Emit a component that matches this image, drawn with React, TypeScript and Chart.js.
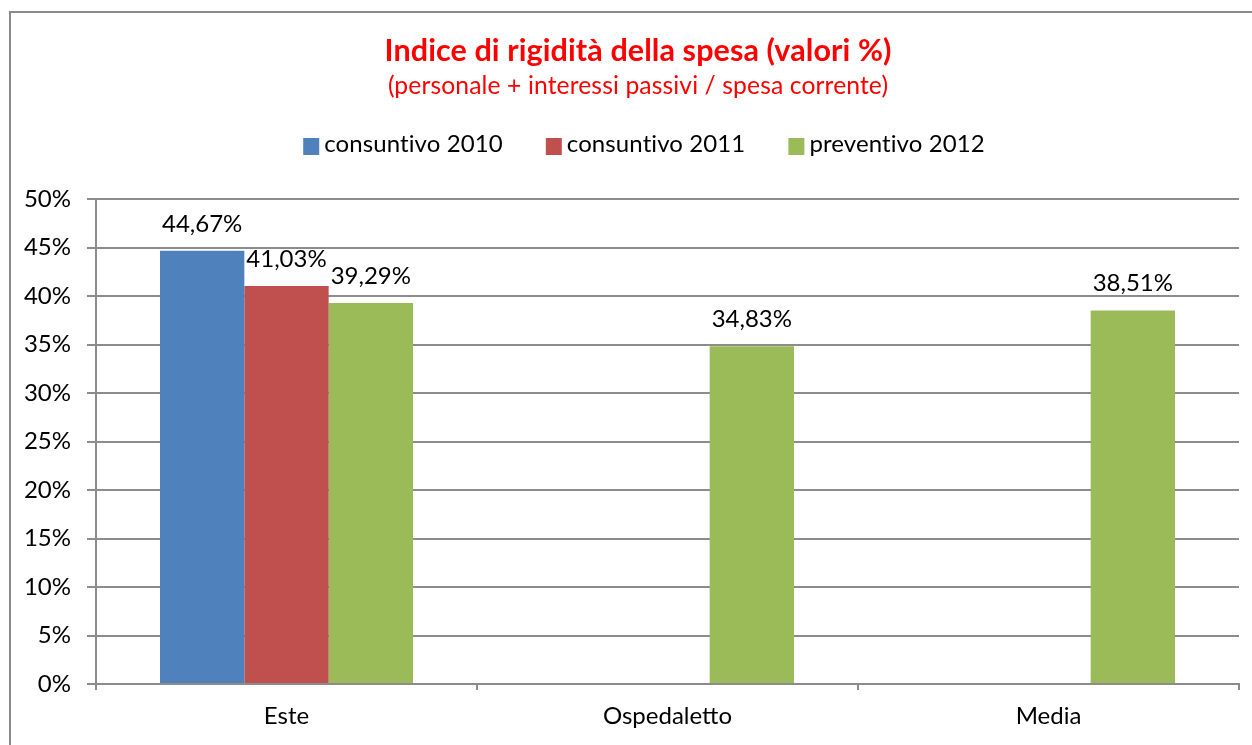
import React, { useEffect, useRef } from 'react';
import { Chart, registerables } from 'chart.js';

Chart.register(...registerables);

const categories = ['Este', 'Ospedaletto', 'Media'];
const seriesNames = ['consuntivo 2010', 'consuntivo 2011', 'preventivo 2012'];
const consuntivo2010 = [44.67, null, null];
const consuntivo2011 = [41.03, null, null];
const preventivo2012 = [39.29, 34.83, 38.51];
const seriesColors = ['#4F81BD', '#C0504D', '#9BBB59'];
const yMin = 0;
const yMax = 50;
const yStep = 5;
const titleText = 'Indice di rigidità della spesa (valori %)';
const subtitleText = '(personale + interessi passivi / spesa corrente)';

const FONT = 'Lato, "Open Sans", sans-serif';
const GRID = '#8c8c8c';

const fmt = (v: number) => v.toFixed(2).replace('.', ',') + '%';

const decorPlugin = {
  id: 'decor',
  beforeDraw(chart: any) {
    const ctx = chart.ctx;
    ctx.save();
    ctx.fillStyle = '#ffffff';
    ctx.fillRect(0, 0, chart.width, chart.height);
    ctx.fillStyle = '#8a8a8a';
    ctx.fillRect(9, 11, 2, chart.height - 11);
    ctx.fillRect(9, 11, chart.width - 9, 2);
    ctx.restore();
  },
  afterDraw(chart: any) {
    const ctx = chart.ctx;
    ctx.save();
    try { (ctx as any).letterSpacing = '0.1px'; } catch (e) {}
    ctx.fillStyle = '#FF0000';
    ctx.textAlign = 'center';
    ctx.textBaseline = 'alphabetic';
    ctx.font = 'bold 30.5px ' + FONT;
    ctx.fillText(titleText, 638, 61);
    ctx.font = '24.7px ' + FONT;
    ctx.fillText(subtitleText, 638, 94);

    // legend
    ctx.font = '24px ' + FONT;
    const box = 16;
    const gapText = 5;
    const gapItem = 43;
    const widths = chart.data.datasets.map((d: any) => box + gapText + ctx.measureText(d.label).width);
    const total = widths.reduce((a: number, b: number) => a + b, 0) + gapItem * (widths.length - 1);
    let x = 644 - total / 2;
    ctx.textAlign = 'left';
    chart.data.datasets.forEach((d: any, i: number) => {
      ctx.fillStyle = d.backgroundColor;
      ctx.fillRect(x, 138, box, 17);
      ctx.fillStyle = '#000000';
      ctx.fillText(d.label, x + box + gapText, 152);
      x += widths[i] + gapItem;
    });
    ctx.restore();
  },
  afterDatasetsDraw(chart: any) {
    const ctx = chart.ctx;
    ctx.save();
    ctx.font = '24px ' + FONT;
    ctx.fillStyle = '#000000';
    ctx.textAlign = 'center';
    ctx.textBaseline = 'alphabetic';
    chart.data.datasets.forEach((d: any, i: number) => {
      const meta = chart.getDatasetMeta(i);
      meta.data.forEach((el: any, j: number) => {
        const v = d.data[j];
        if (v === null || v === undefined) return;
        ctx.fillText(fmt(v), el.x, el.y - 19);
      });
    });
    ctx.restore();
  },
};

export default function App() {
  const ref = useRef<HTMLCanvasElement>(null);
  useEffect(() => {
    if (!ref.current) return;
    const series = [consuntivo2010, consuntivo2011, preventivo2012];
    const chart = new Chart(ref.current, {
      type: 'bar',
      data: {
        labels: categories,
        datasets: series.map((s, i) => ({
          label: seriesNames[i],
          data: s,
          backgroundColor: seriesColors[i],
          borderWidth: 0,
          categoryPercentage: 0.664,
          barPercentage: 1,
        })),
      },
      options: {
        responsive: false,
        animation: false,
        devicePixelRatio: 1,
        layout: { padding: { top: 199, left: 0, right: 13, bottom: 0 } },
        plugins: {
          legend: { display: false },
          title: { display: false },
          tooltip: { enabled: false },
        },
        scales: {
          x: {
            grid: { display: true, drawOnChartArea: false, drawTicks: true, tickLength: 6, color: GRID, lineWidth: 2, offset: true },
            border: { color: GRID, width: 2 },
            ticks: { font: { family: FONT, size: 24 }, color: '#000000', padding: 12 },
            afterFit: (s: any) => { s.height = 61; },
          },
          y: {
            min: yMin,
            max: yMax,
            grid: { color: GRID, lineWidth: 2, tickLength: 9 },
            border: { color: GRID, width: 2 },
            ticks: {
              stepSize: yStep,
              font: { family: FONT, size: 24 },
              color: '#000000',
              padding: 16,
              callback: (v: any) => v + '%',
            },
            afterFit: (s: any) => { s.width = 96; },
          },
        },
      },
      plugins: [decorPlugin],
    });
    return () => chart.destroy();
  }, []);
  return (
    <div style={{ position: 'absolute', left: 0, top: 0, width: 1252, height: 745 }}>
      <canvas ref={ref} width={1252} height={745} style={{ width: 1252, height: 745, display: 'block' }} />
    </div>
  );
}
